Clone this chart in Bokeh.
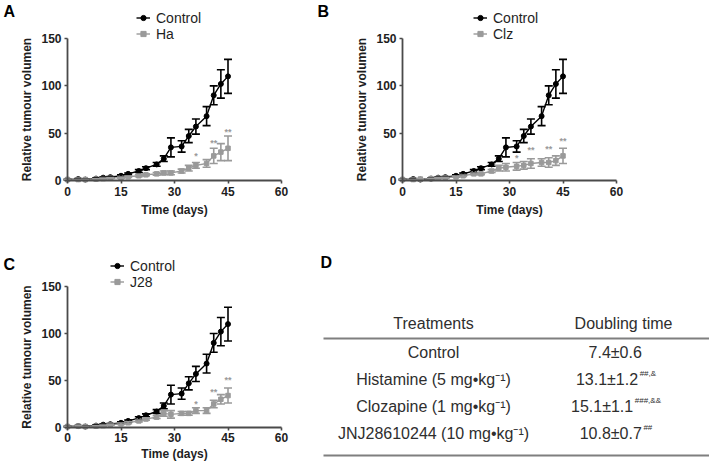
from bokeh.plotting import figure
from bokeh.models import Range1d, Whisker, ColumnDataSource, Legend, LegendItem, Label, TeeHead
from bokeh.layouts import row, column
from bokeh.embed import file_html
from bokeh.resources import INLINE
from bokeh.core.properties import value

# ---------------- data ----------------
days = [0, 3, 5, 8, 10, 12, 15, 17, 20, 22, 25, 27, 29, 32, 34, 36, 39, 41, 43, 45]

control     = [1, 1.5, 1, 2, 3, 3.5, 5, 7, 10, 13, 17, 23, 35, 36, 47, 57, 68, 90, 102, 110]
control_err = [0.3, 0.5, 0.5, 0.5, 0.6, 0.8, 1, 1, 1.5, 1.5, 2, 3, 10, 6, 7, 8, 10, 10, 15, 18]

ha      = [1, 1, 1, 1.5, 2, 2.5, 3, 4, 5, 6, 7, 8, 8, 10, 13, 16, 18, 26, 30, 34]
ha_err  = [0.3, 0.3, 0.3, 0.4, 0.5, 0.5, 0.6, 0.8, 1, 1, 1.5, 2, 2, 2, 3, 3, 4, 8, 9, 13]
ha_star_days = [36, 41, 45]
ha_star_y    = [26, 40, 51]
ha_star_txt  = ["*", "**", "**"]

clz     = [1, 1, 1.5, 2, 2.5, 3, 4, 5, 7, 7, 10, 13, 14, 15, 16, 18, 19, 19, 21, 26]
clz_err = [0.3, 0.3, 0.4, 0.4, 0.5, 0.5, 0.6, 0.8, 1, 1, 1.5, 3, 4, 4, 4, 5, 4, 5, 5, 8]
clz_star_days = [32, 36, 41, 45]
clz_star_y    = [24, 32, 33, 42]
clz_star_txt  = ["*", "**", "**", "**"]

j28     = [1, 1.5, 1, 1.5, 2, 3, 4, 5, 7, 9, 11, 15, 14, 15, 15, 18, 18, 25, 30, 34]
j28_err = [0.3, 0.4, 0.3, 0.4, 0.5, 0.6, 0.8, 1, 1, 1.2, 1.5, 3, 4, 2, 2, 3, 3, 4, 5, 8]
j28_star_days = [36, 41, 45]
j28_star_y    = [25, 38, 51]
j28_star_txt  = ["*", "**", "**"]

x_ticks = [0, 15, 30, 45, 60]
y_ticks = [0, 50, 100, 150]

table_header = ["Treatments", "Doubling time"]
treatments = ["Control", "Histamine (5 mg\u2022kg\u207b\u00b9)", "Clozapine (1 mg\u2022kg\u207b\u00b9)",
              "JNJ28610244 (10 mg\u2022kg\u207b\u00b9)"]
doubling = ["7.4\u00b10.6", "13.1\u00b11.2", "15.1\u00b11.1", "10.8\u00b10.7"]
doubling_sig = ["", "##,&", "###,&&", "##"]

# ---------------- style ----------------
FONT = "Liberation Sans"
GRAY = "#9a9a9a"
AXIS = "#4a4a4a"
TXT = "#1e1e1e"


def axis_range(size, p0, p1, v0, v1, flip=False):
    """Range so that value v0 sits at pixel p0 and v1 at p1 (pixels from left, or from top if flip)."""
    if not flip:
        k = (v1 - v0) / (p1 - p0)
        return Range1d(v0 - p0 * k, v0 + (size - p0) * k)
    k = (v1 - v0) / (p0 - p1)
    return Range1d(v0 - (size - p0) * k, v0 + p0 * k)


def make_panel(letter, name, vals, errs, sdays, sy, stxt, width, height,
               x0px, y0px, y150px, legend_xy, letter_xy, tight=False):
    xr = axis_range(width, x0px, x0px + 214, 0, 60)
    yr = axis_range(height, y0px, y150px, 0, 150, flip=True)
    p = figure(width=width, height=height, x_range=xr, y_range=yr,
               output_backend="svg", toolbar_location=None,
               min_border_left=0, min_border_right=0, min_border_top=0, min_border_bottom=0)
    p.title.visible = False
    p.outline_line_color = None
    p.grid.visible = False
    p.background_fill_color = "white"
    p.border_fill_color = "white"
    p.xaxis.ticker = x_ticks
    p.yaxis.ticker = y_ticks
    p.xaxis.axis_label = "Time (days)"
    p.yaxis.axis_label = "Relative tumour volumen"
    p.xaxis.fixed_location = 0
    p.yaxis.fixed_location = 0
    p.xaxis.bounds = (0, 60)
    p.yaxis.bounds = (0, 150)
    for ax in (p.xaxis[0], p.yaxis[0]):
        ax.axis_line_color = AXIS
        ax.axis_line_width = 1.8
        ax.major_tick_line_color = AXIS
        ax.major_tick_line_width = 1.6
        ax.major_tick_out = 3
        ax.major_tick_in = 0
        ax.minor_tick_line_color = None
        ax.major_label_text_font = FONT
        ax.major_label_text_font_size = "12px"
        ax.major_label_text_font_style = "bold"
        ax.major_label_text_color = TXT
        ax.axis_label_text_font = FONT
        ax.axis_label_text_font_size = "12px"
        ax.axis_label_text_font_style = "bold"
        ax.axis_label_text_color = TXT
        ax.major_label_standoff = 3
        ax.axis_label_standoff = 4
    if tight:
        p.xaxis.major_label_standoff = 2
        p.xaxis.axis_label_standoff = 2

    def series(v, e, color, marker, size):
        src = ColumnDataSource(dict(x=days, y=v,
                                    upper=[a + b for a, b in zip(v, e)],
                                    lower=[a - b for a, b in zip(v, e)]))
        w = Whisker(base="x", upper="upper", lower="lower", source=src,
                    line_color=color, line_width=1.6, level="glyph",
                    upper_head=TeeHead(size=8, line_color=color, line_width=1.6),
                    lower_head=TeeHead(size=8, line_color=color, line_width=1.6))
        p.add_layout(w)
        rl = p.line("x", "y", source=src, line_color=color, line_width=1.4)
        rm = p.scatter("x", "y", source=src, marker=marker, size=size,
                       fill_color=color, line_color=color)
        return rl, rm

    c_l, c_m = series(control, control_err, "black", "circle", 5)
    t_l, t_m = series(vals, errs, GRAY, "square", 4.5)

    p.text(x=sdays, y=sy, text=stxt, text_align="center", text_baseline="middle",
           text_font=value(FONT), text_font_size="9px", text_font_style="bold", text_color=GRAY)

    leg = Legend(items=[LegendItem(label="Control", renderers=[c_l, c_m]),
                        LegendItem(label=name, renderers=[t_l, t_m])],
                 location=legend_xy, padding=0, margin=0, spacing=0,
                 glyph_width=14, glyph_height=13, label_height=13, label_standoff=6,
                 label_text_font=FONT, label_text_font_size="14px", label_text_color=TXT,
                 background_fill_alpha=0, border_line_color=None)
    p.add_layout(leg)

    p.add_layout(Label(x=letter_xy[0], y=letter_xy[1], x_units="screen", y_units="screen",
                       text=letter, text_font=FONT, text_font_size="16px", text_font_style="bold",
                       text_color="black", text_baseline="top", text_align="left"))
    return p


ROW1_H = 230
ROW2_H = 235
LEFT_W = 300
RIGHT_W = 409

pA = make_panel("A", "Ha", ha, ha_err, ha_star_days, ha_star_y, ha_star_txt,
                LEFT_W, ROW1_H, 67, 180, 38, (136, ROW1_H - 41.5), (3, ROW1_H - 2))
pB = make_panel("B", "Clz", clz, clz_err, clz_star_days, clz_star_y, clz_star_txt,
                RIGHT_W, ROW1_H, 102, 180, 38, (173, ROW1_H - 41.5), (17, ROW1_H - 2))
pC = make_panel("C", "J28", j28, j28_err, j28_star_days, j28_star_y, j28_star_txt,
                LEFT_W, ROW2_H, 67, 197, 56, (110, ROW2_H - 59.5), (3, ROW2_H - 25), tight=True)

# Panel D: table
pD = figure(width=RIGHT_W, height=ROW2_H, x_range=Range1d(0, RIGHT_W), y_range=Range1d(ROW2_H, 0),
            output_backend="svg", toolbar_location=None,
            min_border_left=0, min_border_right=0, min_border_top=0, min_border_bottom=0)
pD.title.visible = False
pD.axis.visible = False
pD.grid.visible = False
pD.outline_line_color = None
pD.background_fill_color = "white"
pD.border_fill_color = "white"

TCOL_X = 133
DCOL_X = 315
HCOL2_X = 323
HEAD_Y = 93
ROW0_Y = 122
ROW_DY = 27
RULE_TOP = 108
RULE_BOT = 225
RULE_X0 = 23
TFS = 16
TCOLOR = "#2e2e2e"

pD.text(x=[TCOL_X, HCOL2_X], y=[HEAD_Y, HEAD_Y], text=table_header, text_align="center",
        text_baseline="middle", text_font=value(FONT), text_font_size=f"{TFS}px", text_color=TCOLOR)
rows_y = [ROW0_Y + i * ROW_DY for i in range(len(treatments))]
pD.text(x=[TCOL_X] * len(treatments), y=rows_y, text=treatments, text_align="center",
        text_baseline="middle", text_font=value(FONT), text_font_size=f"{TFS}px", text_color=TCOLOR)


def tw(s, size):
    w = {".": 0.278, ",": 0.278, "\u00b1": 0.584, "&": 0.667, "#": 0.556}
    return sum(w.get(c, 0.556) for c in s) * size


main_x, sup_x = [], []
for d, s in zip(doubling, doubling_sig):
    mw = tw(d, TFS)
    sw = tw(s, 8)
    left = DCOL_X - (mw + sw) / 2
    main_x.append(left)
    sup_x.append(left + mw + 1)
pD.text(x=main_x, y=rows_y, text=doubling, text_align="left", text_baseline="middle",
        text_font=value(FONT), text_font_size=f"{TFS}px", text_color=TCOLOR)
pD.text(x=sup_x, y=rows_y, text=doubling_sig, text_align="left", text_baseline="middle",
        y_offset=-6, text_font=value(FONT), text_font_size="8px", text_color=TCOLOR)

pD.segment(x0=[RULE_X0, RULE_X0], y0=[RULE_TOP, RULE_BOT], x1=[RIGHT_W, RIGHT_W], y1=[RULE_TOP, RULE_BOT],
           line_color="#7f7f7f", line_width=2)
pD.text(x=[20], y=[32], text=["D"], text_align="left", text_baseline="middle",
        text_font=value(FONT), text_font_size="16px", text_font_style="bold", text_color="black")

layout = column(row(pA, pB), row(pC, pD))
open("out.html", "w").write(file_html(layout, INLINE))
